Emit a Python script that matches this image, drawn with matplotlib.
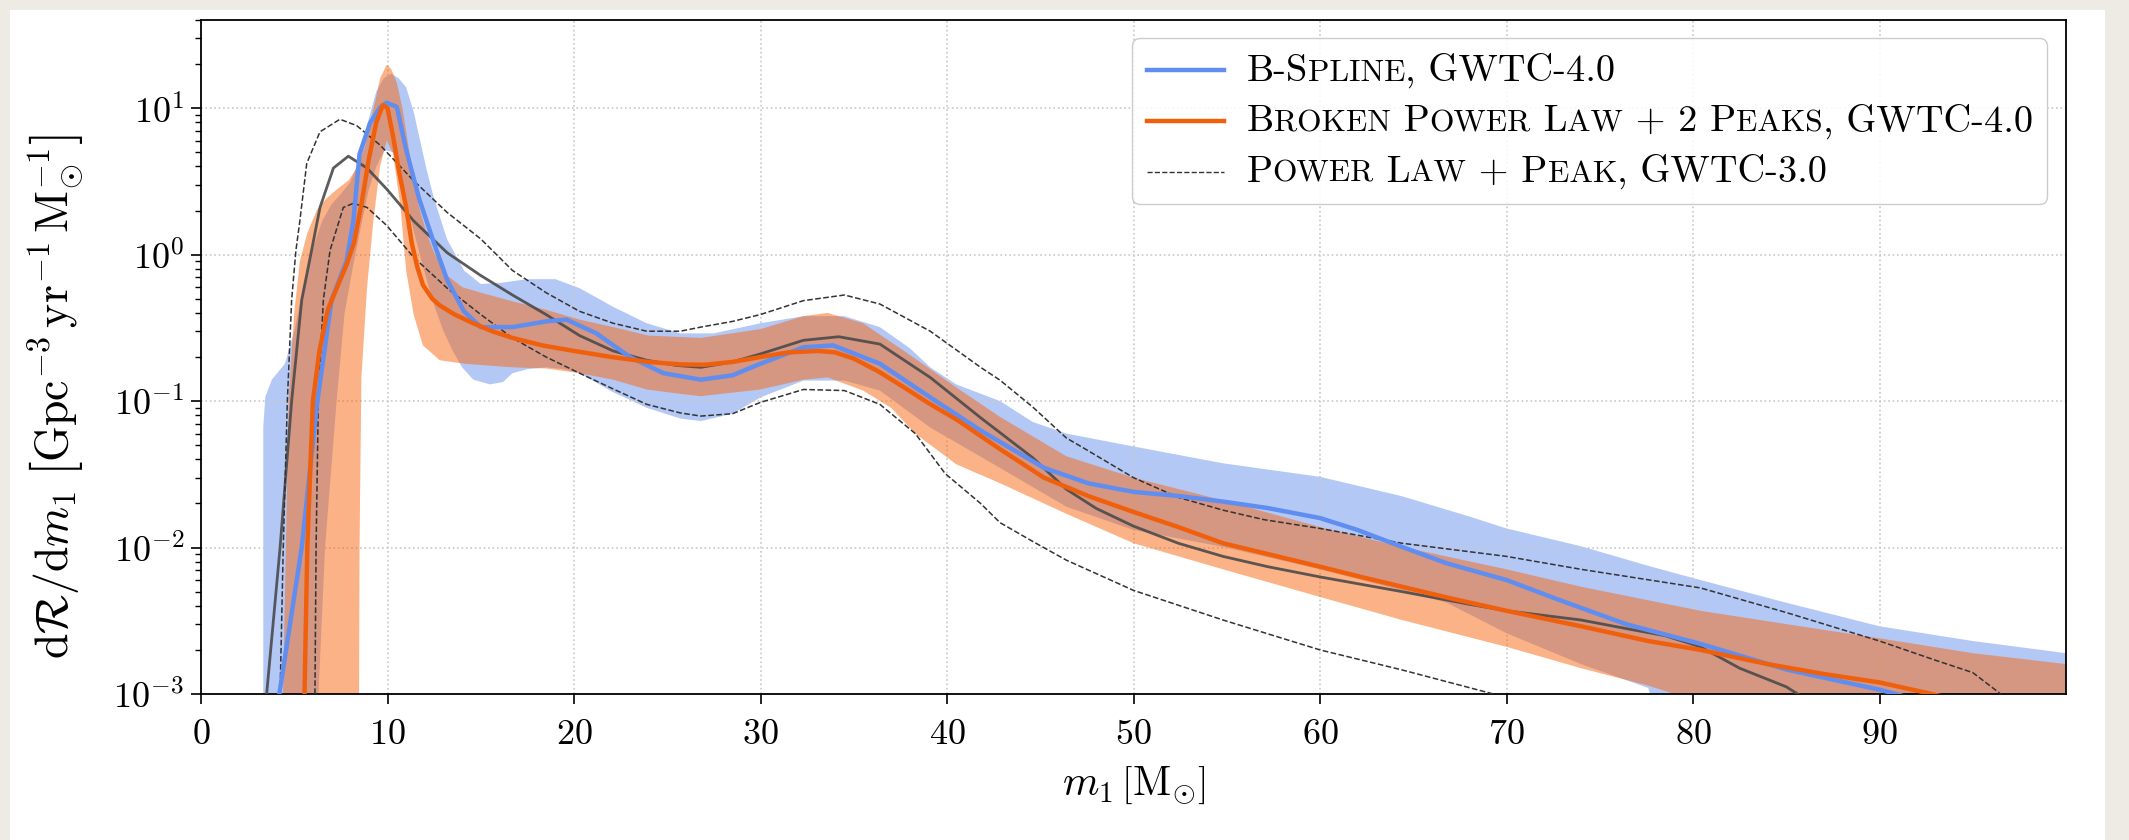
import numpy as np
import matplotlib
matplotlib.use("Agg")
import matplotlib.pyplot as plt
from matplotlib.lines import Line2D
from matplotlib.patches import Rectangle
from matplotlib.offsetbox import (AnchoredOffsetbox, DrawingArea, HPacker,
                                  TextArea, VPacker)

plt.rcParams['font.family'] = 'cmr10'
plt.rcParams['mathtext.fontset'] = 'cm'
plt.rcParams['axes.unicode_minus'] = False
plt.rcParams['axes.formatter.use_mathtext'] = True

# B-Spline, GWTC-4.0 : median
bs_x = [4.2, 5.4, 6.24, 7.0, 7.8, 8.17, 8.5, 9.06, 9.6, 9.96, 10.5, 11.0, 11.7,
        12.5, 13.2, 14.1, 15.0, 16.7, 18.5, 19.6, 21.2, 23.0, 24.8, 26.8, 28.5,
        30.0, 32.3, 33.9, 36.4, 39.1, 41.8, 45.2, 47.6, 50.0, 52.4, 54.8, 57.2,
        60.0, 62.0, 64.4, 66.8, 70.0, 72.8, 76.4, 80.4, 85.0, 90.0, 91.5]
bs_med = [1e-3, 0.01, 0.1, 0.49, 0.9, 1.7, 4.85, 7.9, 10.1, 10.9, 10.2, 5.2, 2.4,
          1.19, 0.67, 0.41, 0.32, 0.32, 0.35, 0.36, 0.29, 0.20, 0.155, 0.14, 0.15,
          0.18, 0.233, 0.24, 0.18, 0.106, 0.063, 0.035, 0.0274, 0.024, 0.0225,
          0.0206, 0.0186, 0.0159, 0.0132, 0.0101, 0.0078, 0.006, 0.0044, 0.003,
          0.0022, 0.00147, 0.00107, 0.00095]

# B-Spline 90% band
bs_up_x = [3.34, 3.45, 3.8, 4.5, 5.0, 5.5, 6.0, 6.5, 7.0, 7.5, 8.0, 8.5, 9.0, 9.4,
           9.8, 10.2, 10.6, 11.0, 11.4, 11.7, 12.1, 12.5, 13.2, 14.1, 15.0, 16.0,
           17.5, 19.0, 20.3, 22.1, 23.9, 25.7, 27.5, 30.0, 32.3, 34.5, 36.4, 38.0,
           39.1, 40.5, 42.84, 44.6, 46.4, 50.0, 54.8, 60.0, 64.4, 68.0, 70.0, 74.0,
           77.6, 80.4, 85.0, 90.0, 95.0, 100.0]
bs_up = [0.067, 0.107, 0.14, 0.18, 0.3, 0.6, 1.1, 1.7, 2.2, 2.6, 3.1, 4.5, 8.5, 13.0,
         16.0, 17.2, 16.0, 13.9, 9.5, 6.4, 3.8, 2.4, 1.27, 0.78, 0.63, 0.64, 0.68,
         0.68, 0.59, 0.44, 0.34, 0.29, 0.29, 0.34, 0.38, 0.38, 0.32, 0.23, 0.17,
         0.13, 0.10, 0.072, 0.060, 0.049, 0.0376, 0.0304, 0.0224, 0.0163, 0.0135,
         0.0102, 0.0075, 0.006, 0.0042, 0.0029, 0.0023, 0.0019]
bs_lo_x = [3.34, 6.2, 6.3, 6.65, 7.27, 7.7, 8.2, 8.6, 9.0, 9.4, 9.85, 10.3, 10.7,
           11.0, 11.5, 12.0, 12.5, 13.0, 13.5, 14.0, 14.6, 15.5, 16.2, 16.7, 17.5,
           18.5, 19.5, 20.3, 22.1, 23.9, 25.7, 26.8, 28.5, 30.0, 32.3, 34.5, 36.4,
           39.1, 42.84, 46.4, 50.0, 54.8, 60.0, 64.4, 66.8, 70.0, 74.0, 77.6, 80.0,
           100.0]
bs_lo = [1e-4, 1e-4, 1e-3, 0.01, 0.1, 0.4, 0.9, 1.6, 2.8, 4.0, 5.2, 5.0, 3.5, 2.4,
         1.3, 0.75, 0.45, 0.3, 0.22, 0.17, 0.14, 0.13, 0.135, 0.155, 0.165, 0.17,
         0.165, 0.155, 0.115, 0.09, 0.076, 0.073, 0.082, 0.106, 0.138, 0.138, 0.118,
         0.066, 0.035, 0.019, 0.0132, 0.0101, 0.0071, 0.0051, 0.0042, 0.0026,
         0.0016, 0.0011, 1e-4, 1e-4]

# Broken Power Law + 2 Peaks, GWTC-4.0 : median
bp_x = [5.55, 5.7, 6.0, 6.35, 6.8, 7.3, 7.8, 8.2, 8.6, 9.0, 9.4, 9.75, 10.0, 10.3,
        10.6, 11.0, 11.3, 11.6, 11.9, 12.4, 12.8, 13.6, 14.6, 15.6, 16.7, 18.3,
        20.0, 22.0, 24.0, 25.7, 27.0, 28.5, 30.0, 31.5, 33.1, 34.0, 35.0, 36.3,
        37.7, 39.0, 40.5, 42.84, 45.2, 47.6, 50.0, 52.4, 54.8, 57.4, 60.0, 62.2,
        64.4, 67.0, 70.0, 74.0, 77.6, 80.4, 84.0, 87.0, 90.0, 92.5, 94.0]
bp_med = [1e-3, 0.01, 0.1, 0.22, 0.42, 0.6, 0.85, 1.2, 2.2, 4.5, 8.0, 10.5, 10.0,
          6.4, 3.8, 2.1, 1.2, 0.82, 0.62, 0.5, 0.45, 0.39, 0.34, 0.30, 0.27, 0.24,
          0.22, 0.20, 0.185, 0.178, 0.177, 0.185, 0.20, 0.215, 0.22, 0.215, 0.195,
          0.16, 0.124, 0.097, 0.075, 0.047, 0.030, 0.0224, 0.0175, 0.0138, 0.0107,
          0.0089, 0.0074, 0.0063, 0.0054, 0.0045, 0.0037, 0.0029, 0.0023, 0.002,
          0.0016, 0.00137, 0.0012, 0.00102, 0.00092]

# Broken Power Law + 2 Peaks 90% band
bp_up_x = [4.35, 4.4, 4.55, 4.7, 5.0, 5.3, 5.7, 6.2, 6.7, 7.3, 7.9, 8.35, 8.8, 9.06,
           9.4, 9.6, 9.96, 10.2, 10.5, 10.8, 11.0, 11.4, 11.7, 12.1, 12.5, 13.2,
           14.0, 15.0, 16.7, 18.5, 20.3, 22.1, 24.0, 26.8, 30.0, 32.3, 33.6, 35.5,
           37.7, 40.5, 42.84, 46.4, 50.0, 54.8, 60.0, 64.4, 70.0, 74.0, 80.4, 85.0,
           90.0, 95.0, 100.0]
bp_up = [1e-4, 1e-3, 0.01, 0.1, 0.4, 0.9, 1.4, 2.0, 2.4, 2.8, 3.2, 3.9, 5.5, 7.9,
         12.0, 16.0, 19.8, 18.5, 14.9, 10.0, 6.9, 3.3, 2.1, 1.4, 1.03, 0.72, 0.6,
         0.55, 0.48, 0.42, 0.36, 0.32, 0.28, 0.27, 0.31, 0.38, 0.40, 0.34, 0.22,
         0.124, 0.078, 0.042, 0.030, 0.021, 0.0138, 0.0101, 0.0071, 0.0054, 0.0037,
         0.003, 0.0024, 0.0019, 0.0016]
bp_lo_x = [8.45, 8.5, 8.6, 8.9, 9.24, 9.6, 9.96, 10.3, 10.7, 11.0, 11.4, 11.9, 12.8,
           14.1, 16.7, 18.5, 20.3, 22.1, 23.9, 25.7, 26.8, 30.0, 32.3, 33.6, 35.5,
           37.0, 38.3, 40.5, 42.84, 46.4, 50.0, 54.8, 60.0, 64.4, 70.0, 74.0, 77.6,
           79.0, 80.0, 100.0]
bp_lo = [1e-4, 0.01, 0.145, 0.59, 1.7, 4.0, 6.0, 4.9, 2.1, 0.78, 0.39, 0.24, 0.19,
         0.18, 0.17, 0.167, 0.155, 0.14, 0.12, 0.112, 0.108, 0.12, 0.14, 0.145,
         0.118, 0.09, 0.06, 0.037, 0.0275, 0.017, 0.0107, 0.0071, 0.0046, 0.0032,
         0.0021, 0.0015, 0.00114, 1e-3, 1e-4, 1e-4]

# Power Law + Peak, GWTC-3.0 : median and 90% bounds
pp_x = [3.52, 4.24, 4.86, 5.4, 5.93, 6.38, 7.1, 7.9, 8.9, 9.96, 11.4, 13.2, 15.0,
        16.7, 18.5, 20.3, 22.1, 23.9, 25.5, 26.8, 28.5, 30.0, 32.3, 34.2, 36.4,
        39.1, 41.8, 44.6, 46.4, 48.0, 50.0, 52.4, 54.8, 57.2, 60.0, 64.4, 68.0,
        70.0, 74.0, 76.4, 78.5, 80.4, 82.5, 85.0, 86.0]
pp_med = [1e-3, 0.01, 0.1, 0.49, 1.07, 2.1, 3.9, 4.7, 3.9, 2.8, 1.7, 1.03, 0.72,
          0.53, 0.39, 0.28, 0.22, 0.19, 0.175, 0.17, 0.185, 0.21, 0.26, 0.275,
          0.245, 0.145, 0.077, 0.041, 0.025, 0.0185, 0.014, 0.0107, 0.0087, 0.0074,
          0.0063, 0.005, 0.0041, 0.0037, 0.0032, 0.0028, 0.0025, 0.0021, 0.0015,
          0.00112, 0.00093]
pp_hi_x = [4.24, 4.41, 4.63, 4.86, 5.09, 5.3, 5.67, 6.38, 7.45, 8.35, 9.6, 11.4,
           13.2, 15.0, 16.7, 18.5, 20.3, 22.1, 23.9, 25.7, 26.8, 28.5, 30.0, 32.3,
           34.5, 36.4, 39.1, 41.8, 42.84, 44.6, 46.4, 47.3, 50.0, 52.4, 54.8, 57.0,
           60.0, 64.4, 70.0, 74.0, 80.4, 85.0, 90.0, 93.0, 95.0, 96.5]
pp_hi = [1e-3, 0.01, 0.1, 0.49, 1.07, 1.7, 4.2, 6.9, 8.4, 7.6, 5.6, 3.2, 1.94, 1.28,
         0.78, 0.55, 0.41, 0.34, 0.30, 0.30, 0.32, 0.35, 0.39, 0.485, 0.53, 0.46,
         0.30, 0.17, 0.139, 0.091, 0.056, 0.048, 0.030, 0.022, 0.018, 0.0155,
         0.0135, 0.0107, 0.0087, 0.0071, 0.0053, 0.0036, 0.0023, 0.0017, 0.0014,
         0.001]
pp_lo_x = [6.11, 6.17, 6.29, 6.56, 6.92, 7.63, 8.17, 8.9, 9.96, 11.4, 13.2, 15.0,
           16.7, 18.5, 20.3, 22.1, 23.9, 25.7, 26.8, 28.5, 30.0, 32.3, 34.5, 36.4,
           38.3, 39.9, 41.8, 42.84, 44.6, 46.4, 50.0, 54.8, 60.0, 64.4, 69.3]
pp_lo = [1e-3, 0.01, 0.1, 0.49, 1.07, 2.1, 2.24, 2.1, 1.58, 0.96, 0.59, 0.39, 0.27,
         0.20, 0.155, 0.121, 0.095, 0.083, 0.079, 0.082, 0.098, 0.12, 0.118, 0.095,
         0.06, 0.032, 0.02, 0.0148, 0.011, 0.0082, 0.0051, 0.0032, 0.002, 0.00146,
         0.001]

x_ticks = [0, 10, 20, 30, 40, 50, 60, 70, 80, 90]
labels = ["B-Spline, GWTC-4.0",
          "Broken Power Law + 2 Peaks, GWTC-4.0",
          "Power Law + Peak, GWTC-3.0"]

blue = '#5f8ef0'
orange = '#f0600c'

fig = plt.figure(figsize=(21.2901, 8.4001), dpi=100, facecolor='#eeebe5')
fig.add_artist(Rectangle((10 / 2129, 0), 2095 / 2129, 830 / 840,
                         transform=fig.transFigure, facecolor='white',
                         edgecolor='none', zorder=-5))
ax = fig.add_axes([201 / 2129, 1 - 694 / 840, 1865 / 2129, 674 / 840])

ax.fill(bs_up_x + bs_lo_x[::-1], bs_up + bs_lo[::-1], color='#6a93ee',
        alpha=0.5, lw=0, zorder=1)
ax.fill(bp_up_x + bp_lo_x[::-1], bp_up + bp_lo[::-1], color='#f7660f',
        alpha=0.5, lw=0, zorder=2)

ax.plot(pp_x, pp_med, color='#4a4a4a', lw=2.0, alpha=0.9, zorder=3)
ax.plot(pp_hi_x, pp_hi, color='#333333', lw=1.1, ls='--', zorder=3)
ax.plot(pp_lo_x, pp_lo, color='#333333', lw=1.1, ls='--', zorder=3)
ax.plot(bs_x, bs_med, color=blue, lw=3.2, zorder=4)
ax.plot(bp_x, bp_med, color=orange, lw=3.2, zorder=5)

ax.set_yscale('log')
ax.set_xlim(0, 100)
ax.set_ylim(1e-3, 40)
ax.set_xticks(x_ticks)
ax.grid(True, which='major', ls=':', color='#c8c8c8', lw=1.2)
ax.tick_params(which='major', direction='out', length=7, width=1.2,
               labelsize=26)
ax.tick_params(axis='x', which='major', pad=11)
ax.tick_params(axis='y', which='major', pad=5)
ax.tick_params(which='minor', direction='out', length=4, width=1.0)
for s in ax.spines.values():
    s.set_linewidth(1.3)

ax.set_xlabel(r'$m_1\,\left[\mathrm{M}_{\odot}\right]$', fontsize=30)
ax.set_ylabel(r'$\mathrm{d}\mathcal{R}/\mathrm{d}m_1\;\left[\mathrm{Gpc}^{-3}\,'
              r'\mathrm{yr}^{-1}\,\mathrm{M}_{\odot}^{-1}\right]$', fontsize=33)
ax.xaxis.set_label_coords(0.5, -0.105)
ax.yaxis.set_label_coords(-0.061, 0.442)


def smallcaps(text, size):
    runs = []
    for ch in text:
        low = ch.islower()
        if runs and runs[-1][1] == low:
            runs[-1][0] += ch
        else:
            runs.append([ch, low])
    boxes = [TextArea(s.upper() if low else s,
                      textprops=dict(fontsize=size * 0.82 if low else size,
                                     family='cmr10'))
             for s, low in runs]
    return HPacker(children=boxes, align='baseline', pad=0, sep=0)


styles = [dict(color=blue, lw=3.2),
          dict(color=orange, lw=3.2),
          dict(color='#333333', lw=1.0, ls='--')]
rows = []
for lab, st in zip(labels, styles):
    da = DrawingArea(56, 24, 0, 0)
    da.add_artist(Line2D([0, 56], [12, 12], **st))
    rows.append(HPacker(children=[da, smallcaps(lab, 27.6)], align='center',
                        pad=0, sep=16))
leg = AnchoredOffsetbox(loc='upper right', child=VPacker(children=rows, sep=11,
                        pad=0, align='left'),
                        pad=0.4, borderpad=0, frameon=True,
                        bbox_to_anchor=(0.990, 0.973),
                        bbox_transform=ax.transAxes, prop=dict(size=26))
leg.patch.set_boxstyle('round,pad=0,rounding_size=0.22')
leg.patch.set_edgecolor('#cccccc')
leg.patch.set_facecolor((1, 1, 1, 0.85))
leg.set_zorder(10)
ax.add_artist(leg)

fig.savefig('out.png', dpi=100, facecolor=fig.get_facecolor())
